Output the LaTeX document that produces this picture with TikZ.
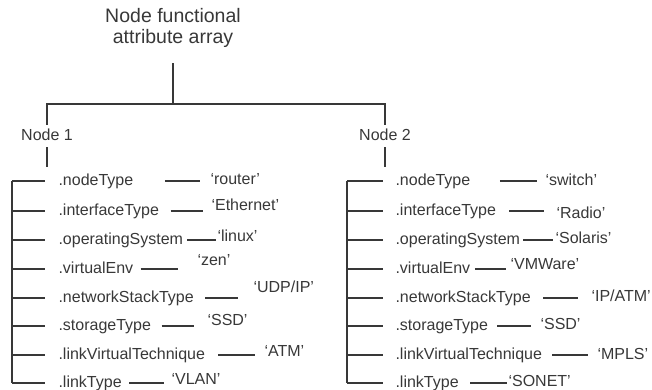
\documentclass[tikz,border=0pt]{standalone}
\usepackage{fontspec}
\setmainfont{Liberation Sans}
\usetikzlibrary{calc}
\definecolor{ink}{gray}{0.22}
\tikzset{
  title/.style={align=center,inner sep=0pt,font=\fontsize{19.5}{21}\selectfont},
  lbl/.style={inner sep=3pt,text height=11.5pt,text depth=3.5pt,font=\fontsize{16}{19}\selectfont},
  attr/.style={anchor=west,inner sep=0pt,text height=11.5pt,text depth=3.5pt,font=\fontsize{16}{19}\selectfont},
  val/.style={attr}
}
\begin{document}
\begin{tikzpicture}[x=1pt,y=-1pt,color=ink,line width=1.05pt]
  \useasboundingbox (0,0) rectangle (652,389);
  % root and the two nodes
  \node[title] (top) at (173,28) {Node functional\\attribute array};
  \coordinate (fork) at (173,104);
  \draw ([yshift=-15pt]top.south) -- (fork);
  \node[lbl] (n1) at (47,136) {Node 1};
  \node[lbl] (n2) at (385,136) {Node 2};
  \draw (n1.north) -- (n1 |- fork) -- (n2 |- fork) -- (n2.north);
  \coordinate (n1end) at (47,167);
  \coordinate (n2end) at (385,167);
  \draw (n1.south) -- (n1end);
  \draw (n2.south) -- (n2end);
  % Node 1 attributes
  \coordinate (lt) at (12,181);
  \node[attr] (l1) at (58,181) {.nodeType};
  \node[attr] (l2) at (58,211) {.interfaceType};
  \node[attr] (l3) at (58,240) {.operatingSystem};
  \node[attr] (l4) at (58,269) {.virtualEnv};
  \node[attr] (l5) at (58,298) {.networkStackType};
  \node[attr] (l6) at (58,326) {.storageType};
  \node[attr] (l7) at (58,355) {.linkVirtualTechnique};
  \node[attr] (l8) at (58,383) {.linkType};
  \draw (lt) -- (lt |- l8);
  \foreach \i in {1,...,8} \draw (lt |- l\i) -- ([xshift=-13pt]l\i.west);
  \node[val] (lv1) at (210,180) {`router'};
  \node[val] (lv2) at (211,206) {`Ethernet'};
  \node[val] (lv3) at (217,237) {`linux'};
  \node[val] (lv4) at (197,261) {`zen'};
  \node[val] (lv5) at (253,288) {`UDP/IP'};
  \node[val] (lv6) at (207,321) {`SSD'};
  \node[val] (lv7) at (264,352) {`ATM'};
  \node[val] (lv8) at (171,380) {`VLAN'};
  \draw[shorten <=31pt,shorten >=10pt] (l1.east) -- (l1.east -| lv1.west);
  \draw[shorten <=11pt,shorten >=8pt] (l2.east) -- (l2.east -| lv2.west);
  \draw[shorten <=3.5pt,shorten >=1pt] (l3.east) -- (l3.east -| lv3.west);
  \draw[shorten <=7pt,shorten >=19pt] (l4.east) -- (l4.east -| lv4.west);
  \draw[shorten <=11pt,shorten >=15pt] (l5.east) -- (l5.east -| lv5.west);
  \draw[shorten <=10pt,shorten >=13pt] (l6.east) -- (l6.east -| lv6.west);
  \draw[shorten <=12.5pt,shorten >=9pt] (l7.east) -- (l7.east -| lv7.west);
  \draw[shorten <=7pt,shorten >=7pt] (l8.east) -- (l8.east -| lv8.west);
  % Node 2 attributes
  \coordinate (rt) at (347,181);
  \node[attr] (r1) at (395,181) {.nodeType};
  \node[attr] (r2) at (395,211) {.interfaceType};
  \node[attr] (r3) at (395,240) {.operatingSystem};
  \node[attr] (r4) at (395,269) {.virtualEnv};
  \node[attr] (r5) at (395,298) {.networkStackType};
  \node[attr] (r6) at (395,326) {.storageType};
  \node[attr] (r7) at (395,355) {.linkVirtualTechnique};
  \node[attr] (r8) at (395,383) {.linkType};
  \draw (rt) -- (rt |- r8);
  \foreach \i in {1,...,8} \draw (rt |- r\i) -- ([xshift=-12pt]r\i.west);
  \node[val] (rv1) at (545,181) {`switch'};
  \node[val] (rv2) at (556,214) {`Radio'};
  \node[val] (rv3) at (555,239) {`Solaris'};
  \node[val] (rv4) at (510,265) {`VMWare'};
  \node[val] (rv5) at (591,297) {`IP/ATM'};
  \node[val] (rv6) at (540,325) {`SSD'};
  \node[val] (rv7) at (597,355) {`MPLS'};
  \node[val] (rv8) at (508,382) {`SONET'};
  \draw[shorten <=29pt,shorten >=8pt] (r1.east) -- (r1.east -| rv1.west);
  \draw[shorten <=12.5pt,shorten >=12pt] (r2.east) -- (r2.east -| rv2.west);
  \draw[shorten <=2.5pt,shorten >=2pt] (r3.east) -- (r3.east -| rv3.west);
  \draw[shorten <=4pt,shorten >=4pt] (r4.east) -- (r4.east -| rv4.west);
  \draw[shorten <=12pt,shorten >=13pt] (r5.east) -- (r5.east -| rv5.west);
  \draw[shorten <=8.5pt,shorten >=9pt] (r6.east) -- (r6.east -| rv6.west);
  \draw[shorten <=9.5pt,shorten >=9pt] (r7.east) -- (r7.east -| rv7.west);
  \draw[shorten <=11pt,shorten >=1pt] (r8.east) -- (r8.east -| rv8.west);
\end{tikzpicture}
\end{document}
